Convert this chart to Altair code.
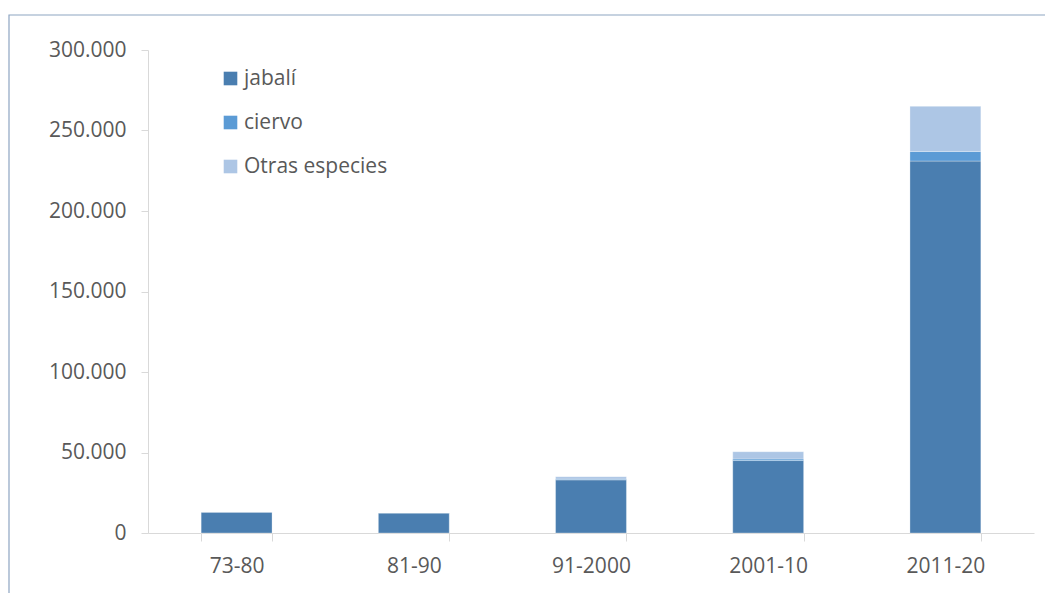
import altair as alt
import pandas as pd

periodos = ["73-80", "81-90", "91-2000", "2001-10", "2011-20"]
especies = ["jabalí", "ciervo", "Otras especies"]
jabali = [13000, 12500, 33000, 45000, 231000]
ciervo = [0, 0, 500, 1000, 6000]
otras = [0, 0, 1500, 4500, 28000]
colores = ["#4a7eb0", "#5b9bd5", "#adc6e5"]
y_ticks = [0, 50000, 100000, 150000, 200000, 250000, 300000]

rows = []
for i, p in enumerate(periodos):
    for k, (esp, vals) in enumerate(zip(especies, [jabali, ciervo, otras])):
        rows.append({"periodo": p, "especie": esp, "valor": vals[i], "orden": k})
df = pd.DataFrame(rows)

W, H = 886, 483
FONT = "Open Sans"
FS = 21
GRAY = "#595959"
AXC = "#d9d9d9"

bars = alt.Chart(df).mark_bar(stroke="#ffffff", strokeWidth=0.6, strokeOpacity=0.5).encode(
    x=alt.X("periodo:N", sort=periodos, title=None,
            scale=alt.Scale(paddingInner=0.6, paddingOuter=0.3),
            axis=alt.Axis(labelAngle=0, tickBand="extent", tickSize=8, domainColor=AXC,
                          tickColor=AXC, labelColor=GRAY, labelFont=FONT, labelFontSize=FS,
                          labelPadding=14, grid=False)),
    y=alt.Y("valor:Q", stack="zero", title=None,
            scale=alt.Scale(domain=[0, 300000], nice=False),
            axis=alt.Axis(values=y_ticks, tickSize=7, domainColor=AXC, tickColor=AXC,
                          labelColor=GRAY, labelFont=FONT, labelFontSize=FS, labelPadding=15,
                          grid=False,
                          labelExpr="replace(format(datum.value, ','), ',', '.')")),
    color=alt.Color("especie:N", sort=especies,
                    scale=alt.Scale(domain=especies, range=colores),
                    legend=alt.Legend(title=None, orient="none", legendX=72, legendY=18,
                                      symbolType="square", symbolSize=185, symbolStrokeWidth=0,
                                      labelFont=FONT, labelFontSize=FS, labelColor=GRAY,
                                      labelOffset=3, rowPadding=22)),
    order=alt.Order("orden:Q"),
)

frame = alt.Chart(alt.Data(values=[{}])).mark_rect(filled=False, stroke="#8ea5c2", strokeWidth=1.2).encode(
    x=alt.value(-139), x2=alt.value(W + 300), y=alt.value(-35), y2=alt.value(H + 300)
)

chart = alt.layer(bars, frame).properties(
    width=W, height=H,
    autosize=alt.AutoSizeParams(type="none"),
    padding={"left": 140, "top": 42, "right": 11, "bottom": 60},
).configure_view(stroke=None)

chart.save("out.html", embed_options={"renderer": "svg", "actions": False})
